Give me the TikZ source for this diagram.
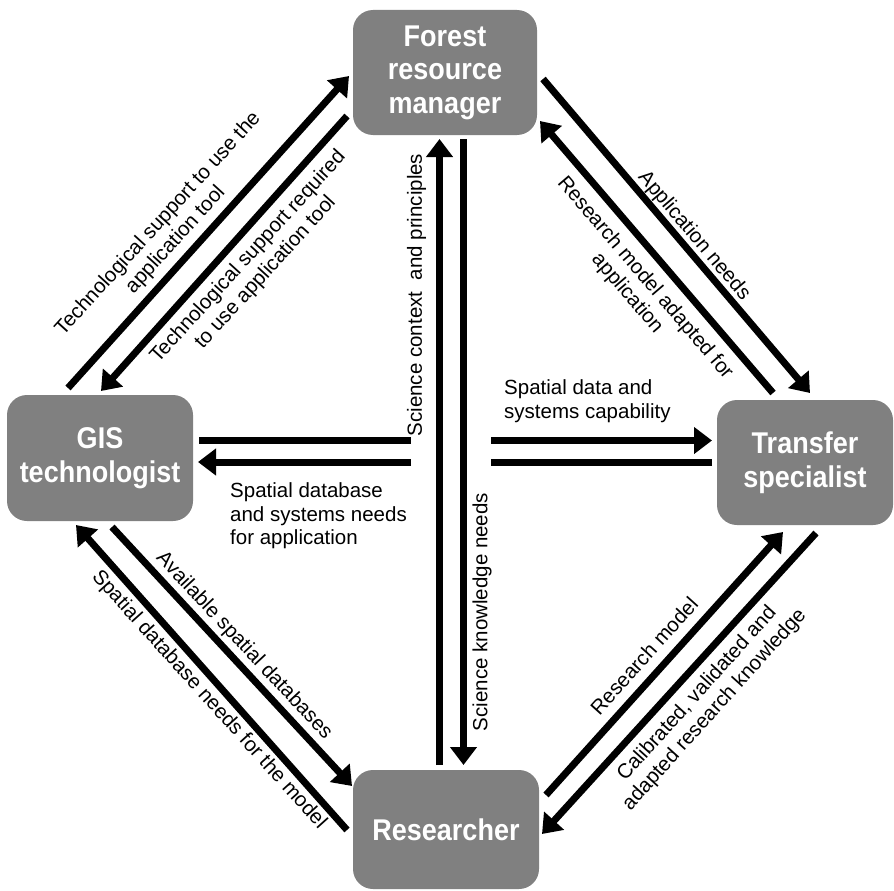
\documentclass[tikz,border=0pt]{standalone}
\usepackage{fontspec}
\setmainfont{Liberation Sans}
\newfontfamily\boxfont[FakeStretch=0.9]{Liberation Sans}
\usetikzlibrary{arrows.meta}
\definecolor{boxgray}{RGB}{128,128,128}
\begin{document}
\begin{tikzpicture}[x=1pt,y=-1pt,
  box/.style={fill=boxgray, rounded corners=20pt, inner sep=0pt, text=white, align=center,
    font=\boxfont\bfseries\fontsize{30}{33.5}\selectfont},
  conn/.style={line width=7pt, draw=black},
  arr/.style={conn, -{Triangle[length=18pt,width=26pt]}},
  lbl/.style={inner sep=0pt, align=center, font=\fontsize{20.5}{23.5}\selectfont},
  lbll/.style={inner sep=0pt, align=left, font=\fontsize{20.5}{23.5}\selectfont}
]
\useasboundingbox (0,0) rectangle (894,891);

% boxes
\node[box, minimum width=184pt, minimum height=125pt] (frm) at (445,72.5) {Forest\\resource\\manager};
\node[box, minimum width=186pt, minimum height=126pt] (gis) at (100,458) {GIS\\technologist};
\node[box, minimum width=176pt, minimum height=125pt] (ts) at (805,462.5) {Transfer\\specialist};
\node[box, minimum width=186pt, minimum height=119pt] (res) at (446,829.5) {Researcher};

% connector end points
\coordinate (a1s) at (68,388);   \coordinate (a1e) at (349,76);
\coordinate (a2s) at (347,116);  \coordinate (a2e) at (101,391);
\coordinate (a3s) at (439.5,765); \coordinate (a3e) at (439.5,139);
\coordinate (a4s) at (463.5,139); \coordinate (a4e) at (463.5,765);
\coordinate (a5s) at (543,79);   \coordinate (a5e) at (810,393);
\coordinate (a6s) at (773,393);  \coordinate (a6e) at (540,121);
\coordinate (h1a) at (199,440.5); \coordinate (h1b) at (411,440.5);
\coordinate (h1c) at (491,440.5); \coordinate (h1d) at (712,440.5);
\coordinate (h2a) at (712,462);   \coordinate (h2b) at (491,462);
\coordinate (h2c) at (411,462);   \coordinate (h2d) at (198,462);
\coordinate (a9s) at (112,527);  \coordinate (a9e) at (352,786);
\coordinate (a10s) at (347,830); \coordinate (a10e) at (76,525);
\coordinate (a11s) at (546,795); \coordinate (a11e) at (783,532);
\coordinate (a12s) at (816,533); \coordinate (a12e) at (542,834);

% connectors
\draw[arr] (a1s) -- (a1e);
\draw[arr] (a2s) -- (a2e);
\draw[arr] (a3s) -- (a3e);
\draw[arr] (a4s) -- (a4e);
\draw[arr] (a5s) -- (a5e);
\draw[arr] (a6s) -- (a6e);
\draw[conn] (h1a) -- (h1b);
\draw[arr] (h1c) -- (h1d);
\draw[conn] (h2a) -- (h2b);
\draw[arr] (h2c) -- (h2d);
\draw[arr] (a9s) -- (a9e);
\draw[arr] (a10s) -- (a10e);
\draw[arr] (a11s) -- (a11e);
\draw[arr] (a12s) -- (a12e);

% labels
\node[lbl, rotate=47.7] (l1) at (167,232) {Technological support to use the\\application tool};
\node[lbl, rotate=47.7] (l2) at (257,265) {Technological support required\\to use application tool};
\node[lbl, rotate=90] (l3) at (416.5,295) {Science context\ \ and principles};
\node[lbl, rotate=90] (l4) at (482,612) {Science knowledge needs};
\node[lbl, rotate=-49.8] (l5) at (694,236) {Application needs};
\node[lbl, rotate=-49.5] (l6) at (636,286) {Research model adapted for\\application};
\node[lbll, anchor=west] (l7) at (504,401) {Spatial data and\\systems capability};
\node[lbll, anchor=west] (l8) at (230,516) {Spatial database\\and systems needs\\for application};
\node[lbl, rotate=-47] (l9) at (244,646) {Available spatial databases};
\node[lbl, rotate=-48] (l10) at (209,700) {Spatial database needs for the model};
\node[lbl, rotate=48] (l11) at (644,656) {Research model};
\node[lbl, rotate=48] (l12) at (706,702) {Calibrated, validated and\\adapted research knowledge};
\end{tikzpicture}
\end{document}
